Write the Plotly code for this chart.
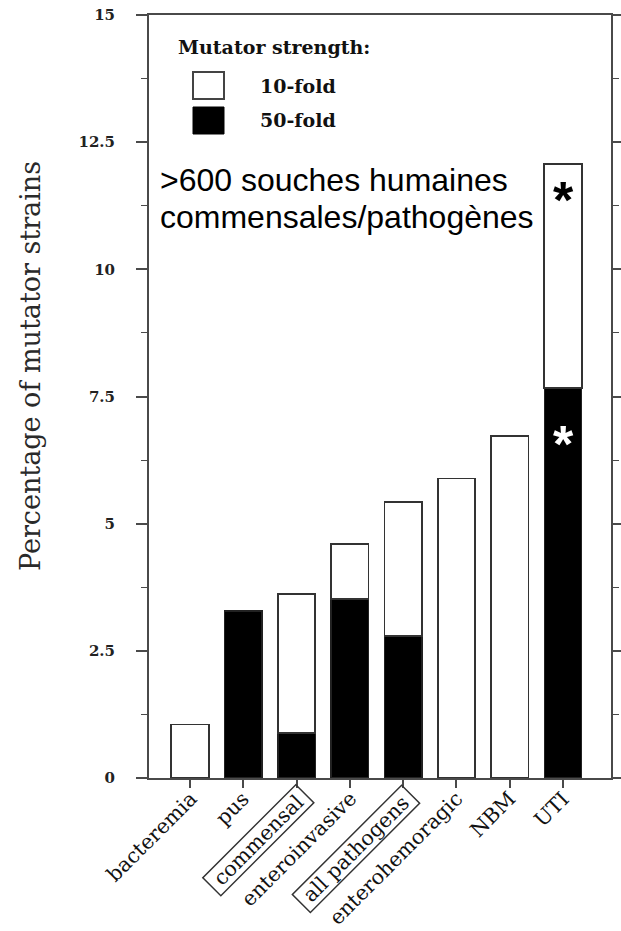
import plotly.graph_objects as go

# ---------------- data ----------------
categories = ["bacteremia", "pus", "commensal", "enteroinvasive",
              "all pathogens", "enterohemoragic", "NBM", "UTI"]
fold50 = [None, 3.28, 0.88, 3.52, 2.79, None, None, 7.66]   # 50-fold (black, bottom)
fold10 = [1.05, None, 2.74, 1.08, 2.63, 5.89, 6.72, 4.41]   # 10-fold (white, stacked on top)
y_tick_vals = [0, 2.5, 5, 7.5, 10, 12.5, 15]
y_tick_text = ["0", "2.5", "5", "7.5", "10", "12.5", "15"]
boxed_labels = ["commensal", "all pathogens"]
star_black_y = 11.6
star_white_y = 6.8

# ---------------- geometry / style ----------------
W, H = 621, 931
ML, MR, MT, MB = 149, 10, 15, 153
PW, PH = W - ML - MR, H - MT - MB
XR = [-0.77, 7.9]
SERIF = "DejaVu Serif"
AXC = "#4a4a4a"
NBSP = "\u00a0"


def px(xpix):
    return (xpix - ML) / PW


def py(ypix):
    return (H - MB - ypix) / PH


fig = go.Figure()
fig.add_trace(go.Bar(x=categories, y=fold50, name="50-fold",
                     marker=dict(color="black", line=dict(color="#222", width=1.5)),
                     width=0.7, showlegend=False))
fig.add_trace(go.Bar(x=categories, y=fold10, name="10-fold",
                     marker=dict(color="white", line=dict(color="#333", width=1.8)),
                     width=0.7, showlegend=False))

annotations = []
# category labels (rotated, two of them framed)
for cat in categories:
    boxed = cat in boxed_labels
    annotations.append(dict(
        text=(NBSP + cat + NBSP) if boxed else cat,
        x=cat, xref="x", y=py(784), yref="paper",
        xanchor="right", yanchor="top", xshift=18 if boxed else 14,
        textangle=-45, showarrow=False,
        bordercolor="#333" if boxed else None, borderwidth=1.5 if boxed else 1,
        borderpad=0 if boxed else 1,
        font=dict(family=SERIF, size=20.5, color="#111")))
# y-axis title
annotations.append(dict(text="Percentage of mutator strains", xref="paper", yref="paper",
                        x=px(30), y=py(366), xanchor="center", yanchor="middle",
                        textangle=-90, showarrow=False,
                        font=dict(family=SERIF, size=27, color="#2a2a2a")))
# legend (custom)
annotations.append(dict(text="Mutator strength:", xref="paper", yref="paper",
                        x=px(176), y=py(47), xanchor="left", yanchor="middle", showarrow=False,
                        font=dict(family=SERIF, size=19, color="#111", weight="bold")))
annotations.append(dict(text="10-fold", xref="paper", yref="paper",
                        x=px(258), y=py(86), xanchor="left", yanchor="middle", showarrow=False,
                        font=dict(family=SERIF, size=19, color="#111", weight="bold")))
annotations.append(dict(text="50-fold", xref="paper", yref="paper",
                        x=px(258), y=py(120), xanchor="left", yanchor="middle", showarrow=False,
                        font=dict(family=SERIF, size=19, color="#111", weight="bold")))
# big overlay text
annotations.append(dict(text=">600 souches humaines", xref="paper", yref="paper",
                        x=px(158), y=py(180), xanchor="left", yanchor="middle", showarrow=False,
                        font=dict(family="Liberation Sans", size=32, color="black")))
annotations.append(dict(text="commensales/pathogènes", xref="paper", yref="paper",
                        x=px(158), y=py(217), xanchor="left", yanchor="middle", showarrow=False,
                        font=dict(family="Liberation Sans", size=32, color="black")))
# asterisks on UTI
annotations.append(dict(text="*", x="UTI", y=star_black_y, xref="x", yref="y",
                        xanchor="center", yanchor="middle", showarrow=False, yshift=-12,
                        font=dict(family="Liberation Sans", size=52, color="black", weight="bold")))
annotations.append(dict(text="*", x="UTI", y=star_white_y, xref="x", yref="y",
                        xanchor="center", yanchor="middle", showarrow=False, yshift=-12,
                        font=dict(family="Liberation Sans", size=52, color="white", weight="bold")))

shapes = []
# legend swatches
shapes.append(dict(type="rect", xref="paper", yref="paper",
                   x0=px(193), x1=px(224), y0=py(72), y1=py(99),
                   fillcolor="white", line=dict(color="#444", width=2)))
shapes.append(dict(type="rect", xref="paper", yref="paper",
                   x0=px(193), x1=px(224), y0=py(107), y1=py(134),
                   fillcolor="black", line=dict(color="black", width=1)))

fig.update_layout(
    width=W, height=H, barmode="stack",
    margin=dict(l=ML, r=MR, t=MT, b=MB, pad=0, autoexpand=False),
    plot_bgcolor="white", paper_bgcolor="white",
    annotations=annotations, shapes=shapes,
    xaxis=dict(range=XR, showticklabels=False, showgrid=False, zeroline=False, automargin=False,
               showline=True, linecolor=AXC, linewidth=2, mirror=True,
               ticks="outside", ticklen=8, tickcolor=AXC, tickwidth=1.5),
    yaxis=dict(range=[0, 15], tickvals=y_tick_vals, ticktext=y_tick_text,
               showgrid=False, zeroline=False, automargin=False,
               showline=True, linecolor=AXC, linewidth=2, mirror="ticks",
               ticks="outside", ticklen=11, tickcolor=AXC, tickwidth=1.5,
               ticklabelstandoff=18,
               minor=dict(dtick=1.25, ticks="outside", ticklen=6, tickcolor=AXC, tickwidth=1.2),
               tickfont=dict(family=SERIF, size=15, color="#222", weight="bold")),
    font=dict(family=SERIF),
)

fig.write_html("out.html")
